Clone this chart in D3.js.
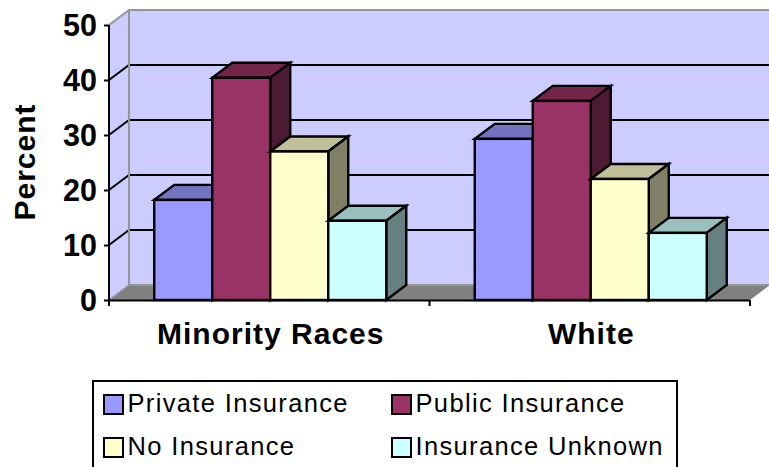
<!DOCTYPE html>
<html><head><meta charset="utf-8">
<script src="https://cdnjs.cloudflare.com/ajax/libs/d3/7.8.5/d3.min.js"></script>
<style>html,body{margin:0;padding:0;background:#fff;overflow:hidden}svg{display:block}text{font-family:"Liberation Sans",Arial,sans-serif;fill:#000}</style>
</head><body><svg id="c" width="769" height="467"></svg>
<script>
const categories = ["Minority Races", "White"];
const seriesNames = ["Private Insurance", "Public Insurance", "No Insurance", "Insurance Unknown"];
const privateInsurance = [18.2, 29.3];
const publicInsurance = [40.4, 36.2];
const noInsurance = [27, 22];
const insuranceUnknown = [14.4, 12.2];
const yTicks = [0, 10, 20, 30, 40, 50];
const frontColors = ["#9999ff", "#993366", "#ffffcc", "#ccffff"];
const topColors = ["#7373bf", "#732649", "#bfbf99", "#99bfbf"];
const sideColors = ["#4d4d80", "#4d1a33", "#808066", "#668080"];

const seriesValues = [privateInsurance, publicInsurance, noInsurance, insuranceUnknown];
const dx = 20, dy = -15;
const svg = d3.select("#c");
const y = d3.scaleLinear().domain([0, 50]).range([300, 25]);
const x0 = d3.scaleBand().domain(categories).range([109, 750]);
const x1 = d3.scaleBand().domain(seriesNames).range([1, x0.bandwidth() + 1]).paddingOuter(0.763).paddingInner(0);
const line = d3.line();
const poly = p => line(p) + "Z";

// walls and floor
svg.append("path").attr("d", poly([[129,10],[770,10],[770,285],[129,285]])).attr("fill", "#ccccff");
svg.append("path").attr("d", poly([[109,25],[129,10],[129,285],[109,300]])).attr("fill", "#ccccff");
svg.append("path").attr("d", poly([[109,300],[129,285],[770,285],[750,300]])).attr("fill", "#808080");

// gridlines
yTicks.filter(t => t > 0 && t < 50).forEach(t => {
  svg.append("path").attr("d", line([[109,y(t)],[129,y(t)+dy],[770,y(t)+dy]])).attr("fill","none").attr("stroke","#000").attr("stroke-width",2);
});
// wall edges
const grey = "#969696";
svg.append("path").attr("d", line([[109,25],[129,10],[770,10]])).attr("fill","none").attr("stroke",grey).attr("stroke-width",2);
svg.append("path").attr("d", line([[129,10],[129,285],[770,285]])).attr("fill","none").attr("stroke",grey).attr("stroke-width",2);
svg.append("path").attr("d", line([[109,300],[129,285]])).attr("fill","none").attr("stroke",grey).attr("stroke-width",1.5);

// bars
categories.forEach((c, ci) => {
  seriesNames.forEach((s, si) => {
    const v = seriesValues[si][ci];
    const xa = x0(c) + x1(s), xb = xa + x1.bandwidth(), yt = y(v), yb = y(0);
    const g = svg.append("g").attr("stroke","#000").attr("stroke-width",2.4).attr("stroke-linejoin","miter");
    g.append("path").attr("d", poly([[xa,yt],[xb,yt],[xb+dx,yt+dy],[xa+dx,yt+dy]])).attr("fill", topColors[si]);
    g.append("path").attr("d", poly([[xb,yt],[xb+dx,yt+dy],[xb+dx,yb+dy],[xb,yb]])).attr("fill", sideColors[si]);
    g.append("rect").attr("x",xa).attr("y",yt).attr("width",xb-xa).attr("height",yb-yt).attr("fill", frontColors[si]);
  });
});

// axes
const yAxis = d3.axisLeft(y).tickValues(yTicks).tickSize(5).tickPadding(7);
const gy = svg.append("g").attr("transform","translate(109,0)").call(yAxis);
gy.select(".domain").attr("stroke","#000").attr("stroke-width",2).attr("d","M0,25V300");
gy.selectAll("line").attr("stroke","#000").attr("stroke-width",2);
gy.selectAll("text").attr("font-size",30.5).attr("font-weight","bold").attr("font-family","Liberation Sans").attr("fill","#000").attr("dy","0.36em");
svg.append("line").attr("x1",108).attr("x2",750).attr("y1",300.5).attr("y2",300.5).attr("stroke","#000").attr("stroke-width",2);
x0.domain().concat(["end"]).forEach((c,i) => {
  const xp = 109 + i * x0.bandwidth();
  svg.append("line").attr("x1",xp).attr("x2",xp).attr("y1",300).attr("y2",306).attr("stroke","#000").attr("stroke-width",2);
});
categories.forEach(c => {
  svg.append("text").attr("x", x0(c)+x0.bandwidth()/2+1.5).attr("y",344).attr("text-anchor","middle").attr("font-size",30).attr("letter-spacing",1).attr("font-weight","bold").text(c);
});
svg.append("text").attr("transform","translate(35,162) rotate(-90)").attr("text-anchor","middle").attr("font-size",30).attr("letter-spacing",1).attr("font-weight","bold").text("Percent");

// legend (its lower edge runs past the picture)
svg.append("rect").attr("x",93).attr("y",381).attr("width",584).attr("height",100).attr("fill","#fff").attr("stroke","#000").attr("stroke-width",2);
const legendX = [103, 391], legendY = [394, 437];
seriesNames.forEach((s,i) => {
  const lx = legendX[i%2], ly = legendY[Math.floor(i/2)];
  svg.append("rect").attr("x",lx+1).attr("y",ly+1).attr("width",19).attr("height",19).attr("fill",frontColors[i]).attr("stroke","#000").attr("stroke-width",2);
  svg.append("text").attr("x",lx+24.5).attr("y",ly+17.5).attr("font-size",25.5).attr("letter-spacing",1.35).text(s);
});
</script></body></html>
